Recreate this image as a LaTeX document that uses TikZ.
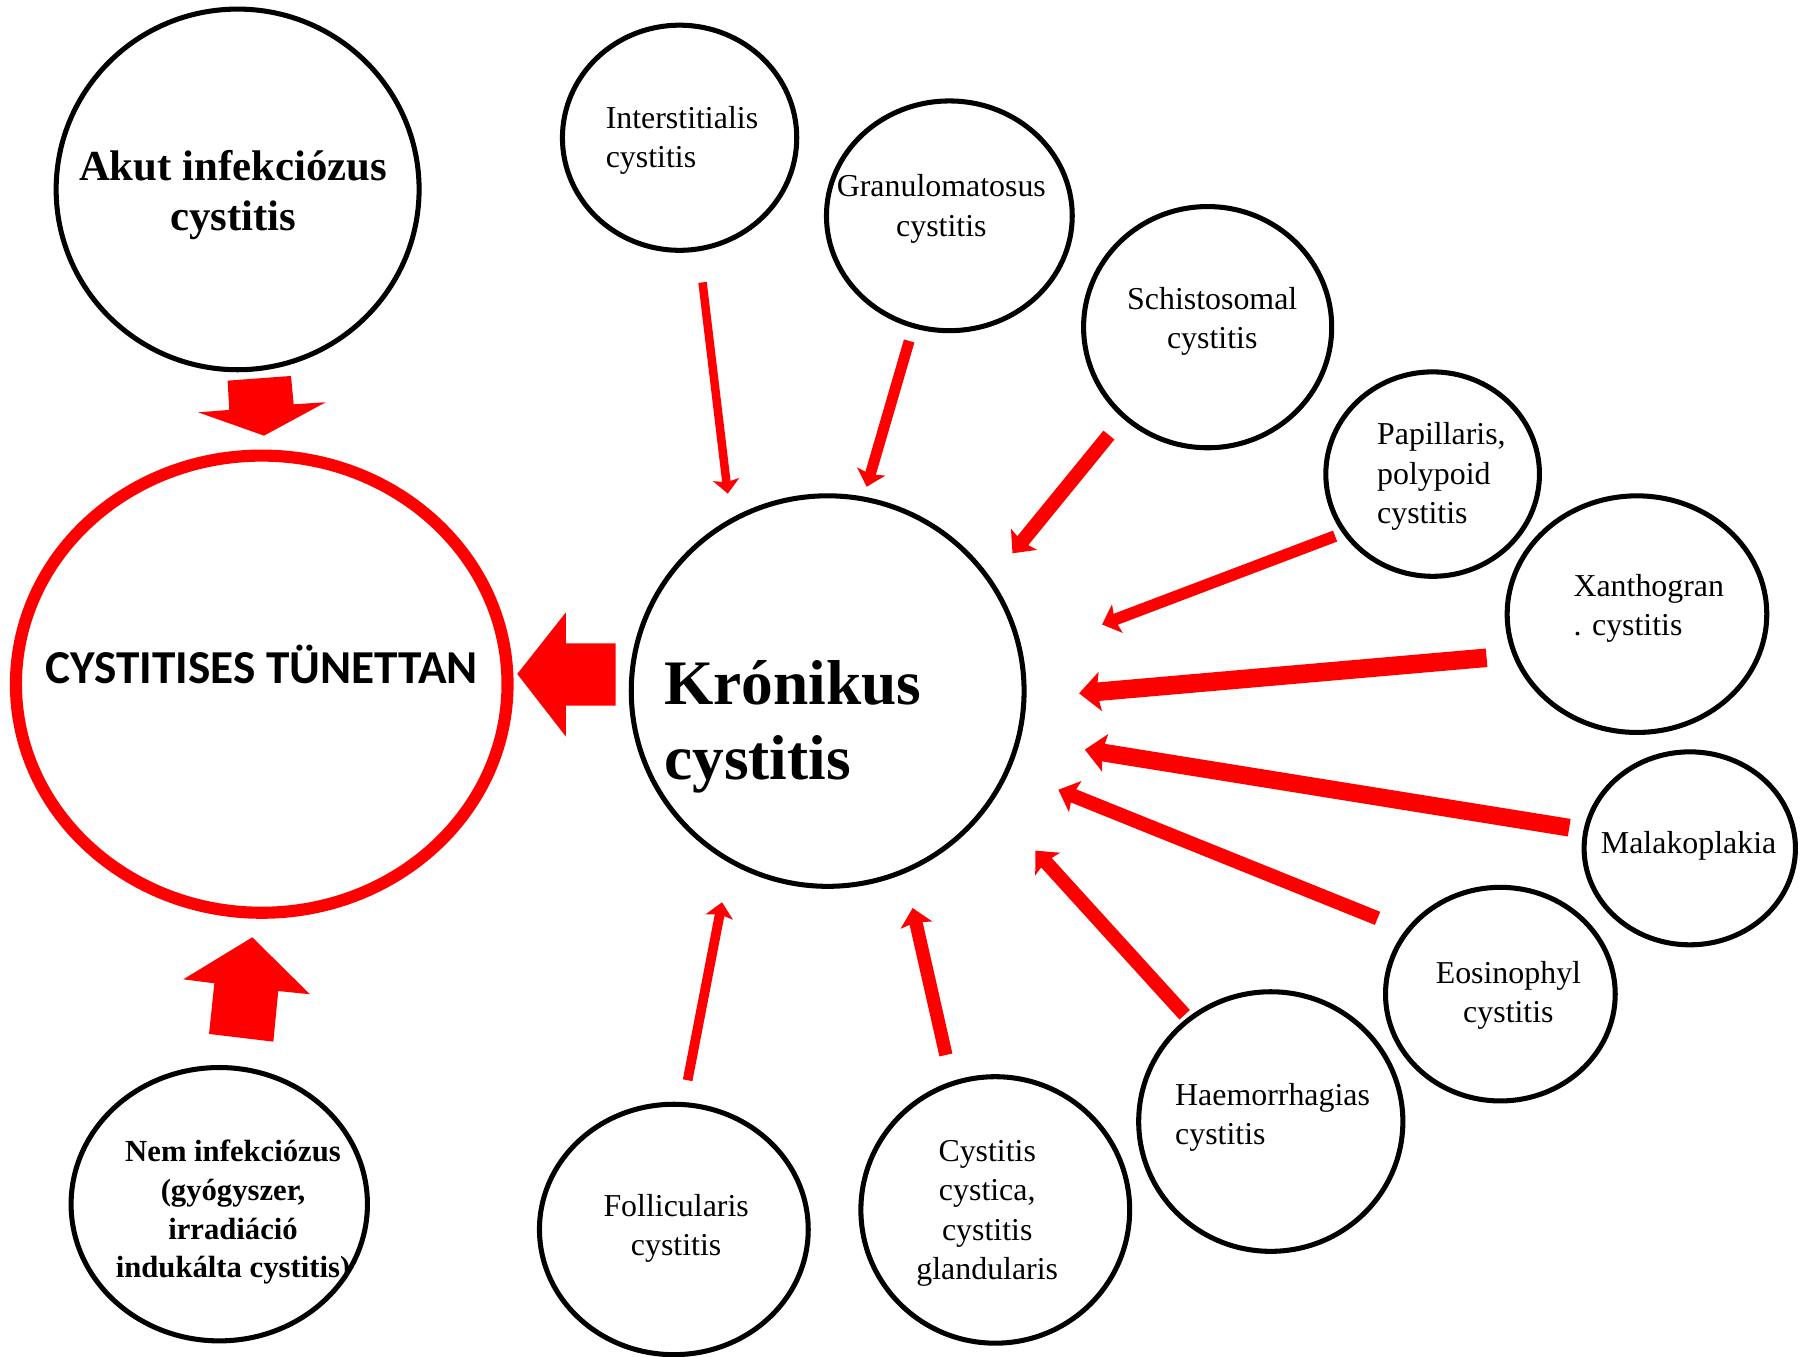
\documentclass[tikz,border=0pt]{standalone}
\usepackage{fontspec}
\setmainfont{Liberation Serif}
\newfontfamily\calibri{Carlito}
\usetikzlibrary{shapes.geometric,arrows.meta}
\tikzset{
	bubble/.style={ellipse, draw=black, line width=1.25pt, inner sep=0pt},
	tag/.style={inner sep=0pt, font=\fontsize{7.9}{9.7}\selectfont},
	redarr/.style={draw=red, line width=#1,
			-{Stealth[length=2pt 0.7, width=3.8pt 1.25, inset=0.4pt 0.1]}},
	block/.style={fill=red, draw=none}
}

\begin{document}
\begin{tikzpicture}[x=0.01cm, y=-0.01cm]
	\useasboundingbox (0,0) rectangle (1568,1182);

	% the big ones
	\node[bubble, minimum width=3.16cm, minimum height=3.14cm] (akut) at (207,165) {};
	\node[bubble, draw=red, line width=3pt, minimum width=4.28cm, minimum height=3.98cm] (tun) at (228,596) {};
	\node[bubble, minimum width=3.42cm, minimum height=3.40cm] (kron) at (721,602) {};
	\node[bubble, minimum width=2.58cm, minimum height=2.38cm] (nem) at (191,1049) {};

	% chronic forms
	\node[bubble, minimum width=2.04cm, minimum height=1.96cm] (inter) at (592,120) {};
	\node[bubble, minimum width=2.14cm, minimum height=2.00cm] (granu) at (827,188) {};
	\node[bubble, minimum width=2.16cm, minimum height=2.10cm] (schis) at (1052,285) {};
	\node[bubble, minimum width=1.86cm, minimum height=1.78cm] (papil) at (1248,413) {};
	\node[bubble, minimum width=2.26cm, minimum height=2.06cm] (xanth) at (1426,535) {};
	\node[bubble, minimum width=1.84cm, minimum height=1.68cm] (malak) at (1472,739) {};
	\node[bubble, minimum width=2.00cm, minimum height=1.86cm] (eosin) at (1307,866) {};
	\node[bubble, minimum width=2.30cm, minimum height=2.26cm] (haem) at (1107,977) {};
	\node[bubble, minimum width=2.34cm, minimum height=2.32cm] (cyst) at (867,1054) {};
	\node[bubble, minimum width=2.34cm, minimum height=2.18cm] (folli) at (587,1071) {};

	% texts
	\node[tag, font=\fontsize{10.6}{12.5}\selectfont\bfseries, align=center] (akut-t) at (203,170) {Akut infekciózus\\cystitis};
	\node[tag, font=\fontsize{11.7}{14}\selectfont\calibri\bfseries] (tun-t) at (228,579) {CYSTITISES TÜNETTAN};
	\node[tag, font=\fontsize{15.7}{18.6}\selectfont\bfseries, align=left, anchor=west] (kron-t) at (578,633) {Krónikus\\cystitis};
	\node[tag, font=\fontsize{7.6}{9.6}\selectfont\bfseries, align=center] (nem-t) at (203,1056) {Nem infekciózus\\(gyógyszer,\\irradiáció\\indukálta cystitis)};
	\node[tag, align=left, anchor=west] (inter-t) at (527,122) {Interstitialis\\cystitis};
	\node[tag, align=center] (granu-t) at (820,182) {Granulomatosus\\cystitis};
	\node[tag, align=center] (schis-t) at (1056,280) {Schistosomal\\cystitis};
	\node[tag, align=left, anchor=west] (papil-t) at (1199,415) {Papillaris,\\polypoid\\cystitis};
	\node[tag, align=left, anchor=west] (xanth-t) at (1370,530) {Xanthogran\\. cystitis};
	\node[tag] (malak-t) at (1471,737) {Malakoplakia};
	\node[tag, align=center] (eosin-t) at (1314,867) {Eosinophyl\\cystitis};
	\node[tag, align=left, anchor=west] (haem-t) at (1023,973) {Haemorrhagias\\cystitis};
	\node[tag, align=center] (cyst-t) at (860,1057) {Cystitis\\cystica,\\cystitis\\glandularis};
	\node[tag, align=center] (folli-t) at (589,1070) {Follicularis\\cystitis};

	% arrow ends
	\coordinate (inter-o) at (612,246);  \coordinate (inter-i) at (634,430);
	\coordinate (granu-o) at (792,297);  \coordinate (granu-i) at (755,424);
	\coordinate (schis-o) at (966,379);  \coordinate (schis-i) at (882,482);
	\coordinate (papil-o) at (1163,467); \coordinate (papil-i) at (960,544);
	\coordinate (xanth-o) at (1295,573); \coordinate (xanth-i) at (940,604);
	\coordinate (malak-o) at (1367,721); \coordinate (malak-i) at (945,653);
	\coordinate (eosin-o) at (1200,800); \coordinate (eosin-i) at (922,688);
	\coordinate (haem-o) at (1032,884);  \coordinate (haem-i) at (902,741);
	\coordinate (cyst-o) at (824,919);   \coordinate (cyst-i) at (795,791);
	\coordinate (folli-o) at (599,941);  \coordinate (folli-i) at (629,786);

	\draw[redarr=2.1pt] (inter-o) -- (inter-i);
	\draw[redarr=2.7pt] (granu-o) -- (granu-i);
	\draw[redarr=3.5pt] (schis-o) -- (schis-i);
	\draw[redarr=2.9pt] (papil-o) -- (papil-i);
	\draw[redarr=4.6pt] (xanth-o) -- (xanth-i);
	\draw[redarr=4.4pt] (malak-o) -- (malak-i);
	\draw[redarr=3.5pt] (eosin-o) -- (eosin-i);
	\draw[redarr=3.5pt] (haem-o) -- (haem-i);
	\draw[redarr=3.3pt] (cyst-o) -- (cyst-i);
	\draw[redarr=2.4pt] (folli-o) -- (folli-i);

	% block arrows into the symptoms
	\fill[block] (198.3,331.6) -- (253.5,327.5) -- (255.8,352.2) -- (283.7,350.4)
		-- (230,379.5) -- (172.7,359.2) -- (199.7,357.1) -- cycle;
	\fill[block] (219.8,816.5) -- (270,866.1) -- (242.4,863.3) -- (238.1,907.4)
		-- (182.1,900.7) -- (186.7,856.6) -- (159.7,853.1) -- cycle;
	\fill[block] (536.3,560.4) -- (493,560.4) -- (493,533.4) -- (450.6,587.1)
		-- (493,641.7) -- (493,614.7) -- (536.3,614.7) -- cycle;
\end{tikzpicture}
\end{document}
